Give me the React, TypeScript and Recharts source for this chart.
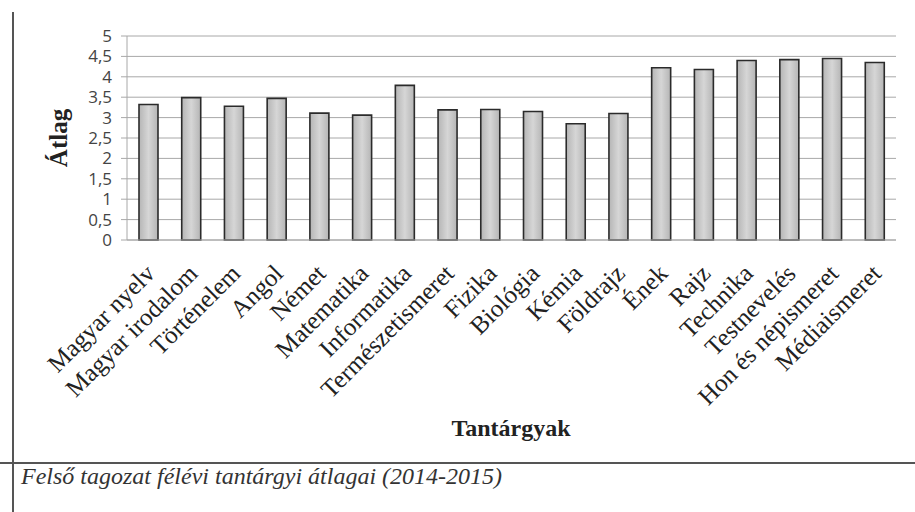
import React from 'react';
import { BarChart, Bar, XAxis, YAxis, CartesianGrid } from 'recharts';

const subjects = [
  'Magyar nyelv',
  'Magyar irodalom',
  'Történelem',
  'Angol',
  'Német',
  'Matematika',
  'Informatika',
  'Természetismeret',
  'Fizika',
  'Biológia',
  'Kémia',
  'Földrajz',
  'Ének',
  'Rajz',
  'Technika',
  'Testnevelés',
  'Hon és népismeret',
  'Médiaismeret',
];

const averages = [3.32, 3.49, 3.28, 3.47, 3.11, 3.06, 3.79, 3.19, 3.2, 3.15, 2.85, 3.1, 4.22, 4.18, 4.4, 4.42, 4.45, 4.35];

const yTicks = [0, 0.5, 1, 1.5, 2, 2.5, 3, 3.5, 4, 4.5, 5];

const data = subjects.map((name, i) => ({ name, value: averages[i] }));

const serif = '"Liberation Serif", "Times New Roman", serif';

const SubjectTick = ({ x, y, payload }: any) => (
  <g transform={`translate(${x + 8},${y + 27})`}>
    <text textAnchor="end" transform="rotate(-45)" fontFamily={serif} fontSize={25} fill="#222">
      {payload.value}
    </text>
  </g>
);

const App: React.FC = () => {
  return (
    <div style={{ position: 'absolute', left: 0, top: 0, width: 915, height: 512, background: '#fff' }}>
      <BarChart
        width={915}
        height={465}
        data={data}
        margin={{ top: 36, right: 19, left: 60, bottom: 0 }}
        barCategoryGap={0}
      >
        <defs>
          <linearGradient id="barFill" x1="0" y1="0" x2="1" y2="0">
            <stop offset="0%" stopColor="#b5b5b5" />
            <stop offset="50%" stopColor="#d6d6d6" />
            <stop offset="100%" stopColor="#b5b5b5" />
          </linearGradient>
        </defs>
        <CartesianGrid vertical={false} stroke="#a8a8a8" />
        <XAxis
          dataKey="name"
          interval={0}
          height={225}
          tick={<SubjectTick />}
          tickLine={false}
          axisLine={{ stroke: '#a8a8a8' }}
        />
        <YAxis
          width={67}
          domain={[0, 5]}
          ticks={yTicks}
          interval={0}
          tickFormatter={(v: number) => String(v).replace('.', ',')}
          tick={{ fontFamily: '"Open Sans", sans-serif', fontSize: 17, fill: '#444' }}
          tickSize={6}
          tickMargin={9}
          tickLine={{ stroke: '#a8a8a8' }}
          axisLine={{ stroke: '#a8a8a8' }}
          label={{
            value: 'Átlag',
            angle: -90,
            position: 'insideLeft',
            offset: -2,
            style: { fontFamily: serif, fontSize: 25, fontWeight: 'bold', fill: '#222', textAnchor: 'middle' },
          }}
        />
        <Bar
          dataKey="value"
          barSize={19}
          fill="url(#barFill)"
          stroke="#2b2b2b"
          strokeWidth={1.6}
          isAnimationActive={false}
        />
      </BarChart>
      <div
        style={{
          position: 'absolute',
          left: 0,
          top: 415,
          width: 1022,
          textAlign: 'center',
          fontFamily: serif,
          fontWeight: 'bold',
          fontSize: 24,
          color: '#222',
        }}
      >
        Tantárgyak
      </div>
      <div style={{ position: 'absolute', left: 12, top: 12, width: 1.5, height: 500, background: '#555' }} />
      <div style={{ position: 'absolute', left: 0, top: 462, width: 915, height: 1.5, background: '#555' }} />
      <div
        style={{
          position: 'absolute',
          left: 21,
          top: 463,
          fontFamily: serif,
          fontStyle: 'italic',
          fontSize: 24,
          color: '#333',
        }}
      >
        Felső tagozat félévi tantárgyi átlagai (2014-2015)
      </div>
    </div>
  );
};

export default App;
